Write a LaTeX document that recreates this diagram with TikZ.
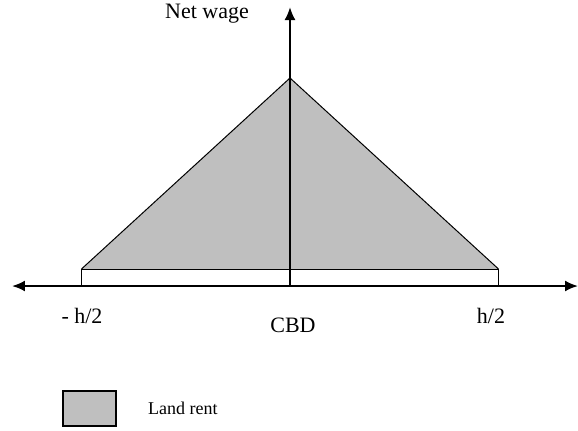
\documentclass[tikz,border=0pt]{standalone}
\usepackage{fontspec}
\setmainfont{Liberation Serif}
\usetikzlibrary{arrows.meta}
\usetikzlibrary{positioning, math}

\begin{document}
\begin{tikzpicture}[x=0.5pt, y=0.5pt, >={Latex[length=6.5pt, width=5.5pt]}]
\tikzmath{
\hh=208.5;
\band=17;
\peak=208;
}
\useasboundingbox (-290,-144) rectangle (288,286);

\coordinate (west) at (-278,0);
\coordinate (east) at (288,0);
\coordinate (origin) at (0,0);
\coordinate (top) at (0,279);

\fill[color=black!25] (-\hh,\band) -- (0,\peak) -- (\hh,\band) -- cycle;
\draw[line width=0.5] (-\hh,0) rectangle (\hh,\band);
\draw[line width=0.5] (-\hh,\band) -- (0,\peak) -- (\hh,\band);

\draw[<->, line width=1] (west) -- (east);
\draw[->, line width=1] (origin) -- (top);

\node[anchor=base, inner sep=0, font=\fontsize{11}{13}\selectfont] (netwage) at (-83,268) {Net wage};
\node[anchor=base, inner sep=0, font=\fontsize{11}{13}\selectfont] (minush) at (-208,-37) {- h/2};
\node[anchor=base, inner sep=0, font=\fontsize{11}{13}\selectfont] (plush) at (201,-37) {h/2};
\node[anchor=base, inner sep=0, font=\fontsize{11}{13}\selectfont] (cbd) at (3,-46) {CBD};

\node[draw, line width=0.75, fill=black!25, minimum width=26.5pt, minimum height=17.5pt, inner sep=0] (key) at (-200.5,-122.5) {};
\node[right=15.5pt of key, inner sep=0, font=\fontsize{9}{11}\selectfont] (rent) {Land rent};

\end{tikzpicture}
\end{document}
